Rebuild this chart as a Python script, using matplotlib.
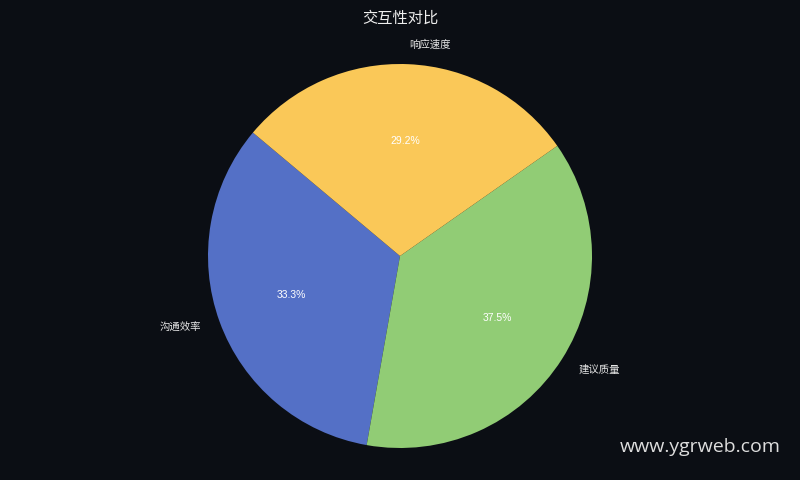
import matplotlib.pyplot as plt

plt.rcParams['font.family'] = ['Noto Sans CJK SC', 'DejaVu Sans']

labels = ["沟通效率", "建议质量", "响应速度"]
values = [8, 9, 7]
colors = ["#5470c6", "#91cc75", "#fac858"]
bg = "#0b0e14"


def main():
    fig = plt.figure(figsize=(8, 4.8), dpi=100, facecolor=bg)
    ax = fig.add_axes([0, 0, 1, 1])
    ax.set_facecolor(bg)

    _, texts, autotexts = ax.pie(
        values, labels=labels, colors=colors, startangle=140,
        autopct="%1.1f%%", pctdistance=0.6, labeldistance=1.1,
        wedgeprops={"linewidth": 0}, radius=1.0,
    )
    # радіус 192 px, центр (400, 256) від верхнього краю
    r = 192
    ax.set_aspect("auto")
    ax.set_xlim(-400 / r, 400 / r)
    ax.set_ylim(-224 / r, 256 / r)
    ax.axis("off")

    for t in texts:
        t.set_color("#e6e6e6")
        t.set_fontsize(7.5)
    for t in autotexts:
        t.set_color("white")
        t.set_fontsize(7.5)
        t.set_family(["Liberation Sans", "DejaVu Sans"])

    fig.text(0.5, 0.962, "交互性对比", ha="center", va="center",
             color="#eeeeee", fontsize=11)
    fig.text(0.976, 0.068, "www.ygrweb.com", ha="right", va="center",
             color="#dddddd", fontsize=14, family=["Open Sans", "DejaVu Sans"])

    fig.savefig("out.png", dpi=100, facecolor=bg)


if __name__ == "__main__":
    main()
